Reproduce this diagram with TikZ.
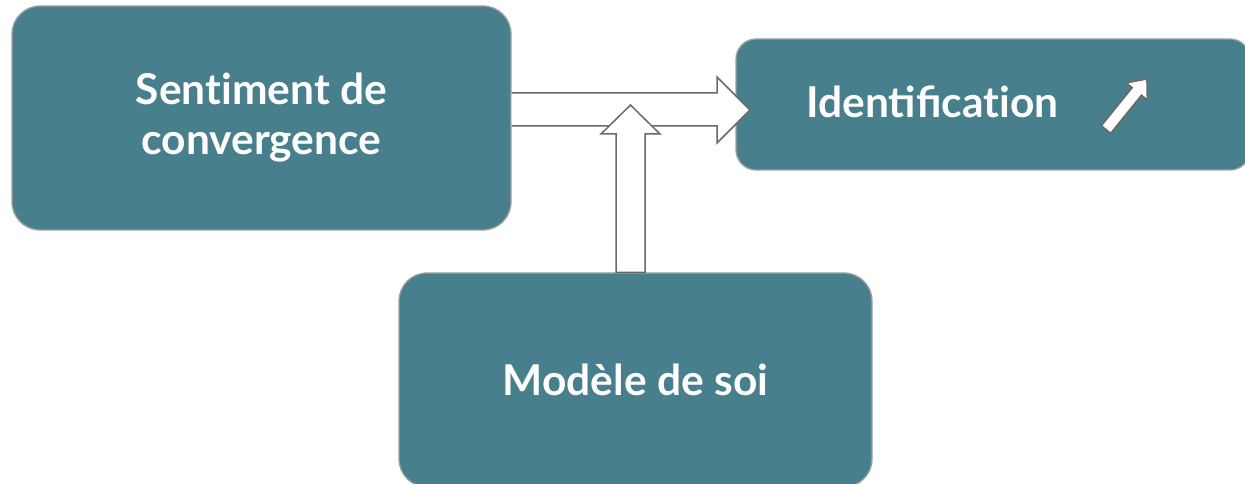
\documentclass[tikz,border=0pt]{standalone}
\usepackage{fontspec}
\setmainfont{Lato}
\newcommand{\nl}{\kern0pt{}}
\begin{document}
\begin{tikzpicture}[x=1pt,y=1pt,
  box/.style={draw=boxborder, line width=1.3pt, fill=boxfill, rounded corners=28pt, inner sep=0pt, text=white, font=\bfseries\fontsize{42.5}{50}\selectfont, align=center},
  blockarrow/.style={draw=arrowgray, line width=1.5pt, fill=white, line join=miter}]
\definecolor{boxfill}{RGB}{71,128,140}
\definecolor{boxborder}{RGB}{160,160,160}
\definecolor{arrowgray}{RGB}{105,105,105}
\useasboundingbox (0,0) rectangle (1245,484);
\begin{scope}
\clip (0,0) rectangle (1245,484);
\node[box, minimum width=499pt, minimum height=224pt] (s) at (261.5,366) {Sent\nl iment de\\convergence};
\node[box, rounded corners=20pt, minimum width=514pt, minimum height=131pt] (i) at (993,379.5) {};
\node[anchor=base west, text=white, font=\bfseries\fontsize{42.5}{50}\selectfont, inner sep=0pt] (it) at (806,366) {Identificat\nl ion};
\node[box, minimum width=473pt, minimum height=214pt] (m) at (635.5,104) {Modèle de soi};
% horizontal block arrow from s to i
\coordinate (htip) at (750,374);
\draw[blockarrow] (s.east |- 0,391) -- (717,391) -- (717,407) -- (htip) -- (717,341) -- (717,358) -- (s.east |- 0,358);
% vertical block arrow from m up to the horizontal arrow
\coordinate (vtip) at (630.5,379);
\draw[blockarrow] (616,0 |- m.north) -- (616,350) -- (601,350) -- (vtip) -- (660,350) -- (645,350) -- (645,0 |- m.north) -- cycle;
% small arrow in Identification box
\draw[blockarrow, shift={(1106,354.5)}, rotate=51] (0,-6) -- (49,-6) -- (49,-13.5) -- (65,0) -- (49,13.5) -- (49,6) -- (0,6) -- cycle;
\end{scope}
\end{tikzpicture}
\end{document}
